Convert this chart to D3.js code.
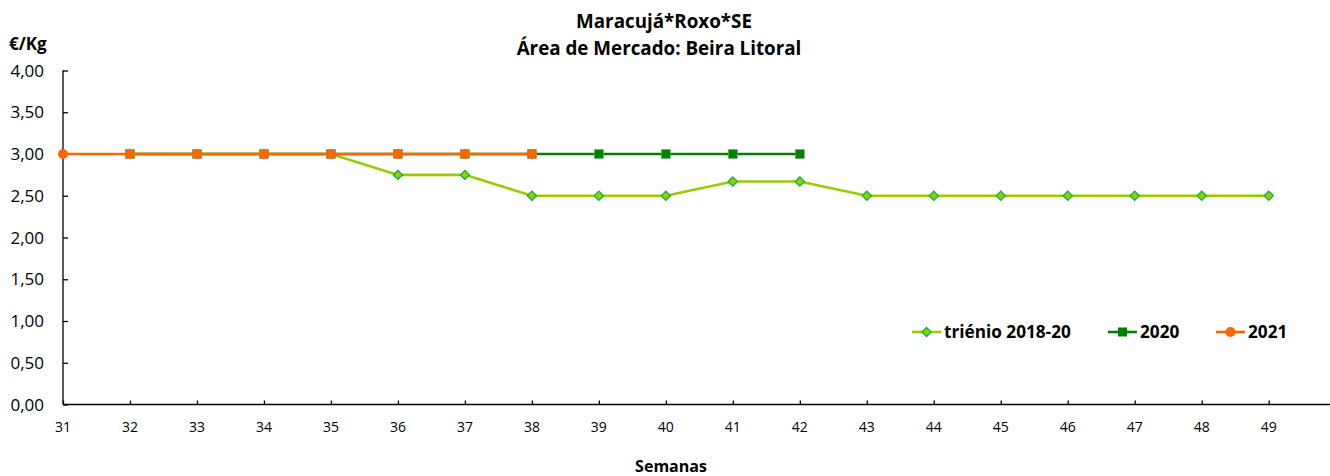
<!DOCTYPE html>
<html>
<head>
<meta charset="utf-8">
<script src="https://cdn.jsdelivr.net/npm/d3@7"></script>
<style>
  body { margin: 0; background: #fff; }
  svg { display: block; }
  text { font-family: "Open Sans", Lato, sans-serif; }
</style>
</head>
<body>
<svg id="chart" width="1330" height="476"></svg>
<script>
const weeks = [31,32,33,34,35,36,37,38,39,40,41,42,43,44,45,46,47,48,49];
const trienioWeeks = [32,33,34,35,36,37,38,39,40,41,42,43,44,45,46,47,48,49];
const trienio = [3.00,3.00,3.00,3.00,2.75,2.75,2.50,2.50,2.50,2.67,2.67,2.50,2.50,2.50,2.50,2.50,2.50,2.50];
const weeks2020 = [32,33,34,35,36,37,38,39,40,41,42];
const s2020 = [3.00,3.00,3.00,3.00,3.00,3.00,3.00,3.00,3.00,3.00,3.00];
const weeks2021 = [31,32,33,34,35,36,37,38];
const s2021 = [3.00,3.00,3.00,3.00,3.00,3.00,3.00,3.00];
const yTicks = [0,0.5,1,1.5,2,2.5,3,3.5,4];
const titleLines = ["Maracujá*Roxo*SE", "Área de Mercado: Beira Litoral"];
const legendNames = ["triénio 2018-20", "2020", "2021"];

const svg = d3.select("#chart");
const x = d3.scaleLinear().domain([31,49]).range([63, 1268.7]);
const y = d3.scaleLinear().domain([0,4]).range([404.5, 70.5]);
const fmt = v => d3.format(".2f")(v).replace(".", ",");

// Y axis
const yAxis = svg.append("g").attr("transform","translate(63,0)")
  .call(d3.axisRight(y).tickValues(yTicks).tickSize(5).tickFormat(""));
yAxis.select(".domain").remove();
yAxis.selectAll("line").attr("stroke","#000").attr("stroke-width",1.3);
svg.append("line").attr("x1",63).attr("x2",63).attr("y1",y(4)).attr("y2",y(0)).attr("stroke","#000").attr("stroke-width",1.3);
svg.append("g").selectAll("text").data(yTicks).join("text")
  .attr("x",44).attr("y",d=>y(d)).attr("dy","0.36em").attr("text-anchor","end")
  .attr("font-size",17).attr("fill","#000").text(fmt);

// X axis
const xAxis = svg.append("g").attr("transform",`translate(0,${y(0)})`)
  .call(d3.axisTop(x).tickValues(weeks).tickSize(4).tickFormat(""));
xAxis.select(".domain").remove();
xAxis.selectAll("line").attr("stroke","#000").attr("stroke-width",1.3);
svg.append("line").attr("x1",63).attr("x2",1330).attr("y1",y(0)).attr("y2",y(0)).attr("stroke","#000").attr("stroke-width",1.3);
svg.append("g").selectAll("text").data(weeks).join("text")
  .attr("x",d=>x(d)).attr("y",432).attr("text-anchor","middle")
  .attr("font-size",14).attr("fill","#000").text(d=>d);

// Titles
svg.append("g").selectAll("text").data(titleLines).join("text")
  .attr("x",(d,i)=>i?659:664).attr("y",(d,i)=>i?55:28).attr("text-anchor","middle")
  .attr("font-size",18.8).attr("font-weight","bold").attr("fill","#000").text(d=>d);
svg.append("text").attr("x",9).attr("y",50).attr("font-size",17).attr("font-weight","bold").text("€/Kg");
svg.append("text").attr("x",671).attr("y",472).attr("text-anchor","middle").attr("font-size",16).attr("font-weight","bold").text("Semanas");

const line = d3.line().x(d=>x(d[0])).y(d=>y(d[1]));
const zip = (a,b)=>a.map((v,i)=>[v,b[i]]);

const cTri = "#99cc00", cTriStroke = "#00b050", c20 = "#008000", c21 = "#ff6600";

// Trienio
const dTri = zip(trienioWeeks, trienio);
svg.append("path").datum(dTri).attr("d",line).attr("fill","none").attr("stroke",cTri).attr("stroke-width",2.6);
svg.append("g").selectAll("path").data(dTri).join("path")
  .attr("transform",d=>`translate(${x(d[0])},${y(d[1])}) rotate(45)`)
  .attr("d",d3.symbol().type(d3.symbolSquare).size(42))
  .attr("fill",cTri).attr("stroke",cTriStroke).attr("stroke-width",1.2);

// 2020
const d20 = zip(weeks2020, s2020);
svg.append("path").datum(d20).attr("d",line).attr("fill","none").attr("stroke",c20).attr("stroke-width",2.6);
svg.append("g").selectAll("rect").data(d20).join("rect")
  .attr("x",d=>x(d[0])-4.5).attr("y",d=>y(d[1])-4.5).attr("width",9).attr("height",9)
  .attr("fill",c20).attr("stroke","#66bb66").attr("stroke-width",0.6);

// 2021
const d21 = zip(weeks2021, s2021);
svg.append("path").datum(d21).attr("d",line).attr("fill","none").attr("stroke",c21).attr("stroke-width",2.6);
svg.append("g").selectAll("circle").data(d21).join("circle")
  .attr("cx",d=>x(d[0])).attr("cy",d=>y(d[1])).attr("r",5)
  .attr("fill",c21);

// Legend
const leg = [
  {name:legendNames[0], x0:912, c:cTri, m:"diamond"},
  {name:legendNames[1], x0:1108, c:c20, m:"square"},
  {name:legendNames[2], x0:1216, c:c21, m:"circle"}
];
const ly = 332;
leg.forEach(l=>{
  const g = svg.append("g");
  g.append("line").attr("x1",l.x0).attr("x2",l.x0+29).attr("y1",ly).attr("y2",ly).attr("stroke",l.c).attr("stroke-width",2.6);
  const cx = l.x0+14.5;
  if (l.m==="diamond") g.append("path").attr("transform",`translate(${cx},${ly}) rotate(45)`).attr("d",d3.symbol().type(d3.symbolSquare).size(42)).attr("fill",cTri).attr("stroke",cTriStroke).attr("stroke-width",1.2);
  if (l.m==="square") g.append("rect").attr("x",cx-4.5).attr("y",ly-4.5).attr("width",9).attr("height",9).attr("fill",c20);
  if (l.m==="circle") g.append("circle").attr("cx",cx).attr("cy",ly).attr("r",5).attr("fill",c21);
  g.append("text").attr("x",l.x0+32).attr("y",ly).attr("dy","0.36em").attr("font-size",17.2).attr("font-weight","bold").text(l.name);
});
</script>
</body>
</html>
